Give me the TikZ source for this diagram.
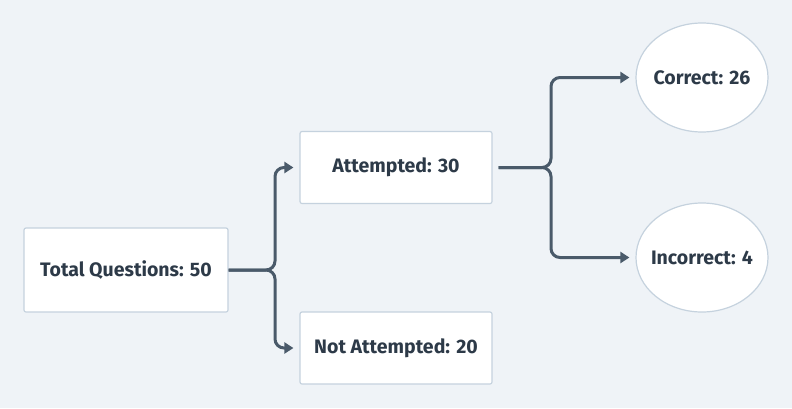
\documentclass[tikz,border=0pt]{standalone}
\usepackage{fontspec}
\setmainfont{Fira Sans}
\usetikzlibrary{shapes.geometric,arrows.meta}
\definecolor{bgc}{HTML}{EFF3F7}
\definecolor{brd}{HTML}{C5D2DE}
\definecolor{txt}{HTML}{2D3A48}
\definecolor{lnc}{HTML}{4A5A6A}
\newcommand{\zw}[1]{\makebox[0pt]{#1}}
\tikzset{
  boxnode/.style={draw=brd, line width=1.2pt, fill=white, rounded corners=2pt, inner sep=0pt,
    text=txt, font=\fontsize{19.5}{22}\selectfont\bfseries},
  ellnode/.style={ellipse, draw=brd, line width=1.2pt, fill=white, inner sep=0pt,
    minimum width=132pt, minimum height=109pt, text=txt, font=\fontsize{19.5}{22}\selectfont\bfseries},
  conn/.style={draw=lnc, line width=3pt, rounded corners=9pt,
    -{Triangle[length=9pt,width=11pt]}, shorten >=6pt},
}
\begin{document}
\begin{tikzpicture}[x=1pt,y=-1pt]
\fill[bgc] (0,0) rectangle (792,408);
\useasboundingbox (0,0) rectangle (792,408);
\node[boxnode, minimum width=204pt, minimum height=84pt] (tot) at (126,270) {Total Questions: 50};
\node[boxnode, minimum width=192pt, minimum height=72pt] (att) at (396,167.5) {Attempted: 30};
\node[boxnode, minimum width=192pt, minimum height=72pt] (nat) at (396,348) {Not Attempted: 20};
\node[ellnode] (cor) at (702,77.5) {\zw{Correct: 26}};
\node[ellnode] (inc) at (702,257.5) {\zw{Incorrect: 4}};
\coordinate (f1) at (275,270);
\coordinate (f2) at (551,167.5);
\draw[conn] (tot.east) -- (f1) |- (att.west);
\draw[conn] (tot.east) -- (f1) |- (nat.west);
\draw[conn, shorten <=6pt] (att.east) -- (f2) |- (cor.west);
\draw[conn, shorten <=6pt] (att.east) -- (f2) |- (inc.west);
\end{tikzpicture}
\end{document}
